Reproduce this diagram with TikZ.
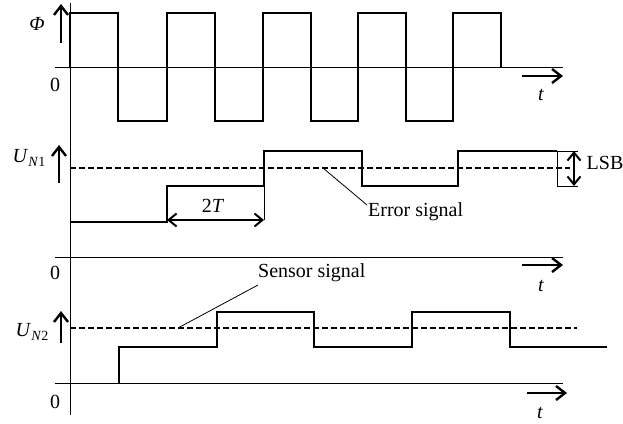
\documentclass[tikz,border=0pt]{standalone}
\usepackage{fontspec}
\setmainfont{Liberation Serif}
\usetikzlibrary{arrows.meta}
\newcommand{\subidx}[1]{\raisebox{-4pt}{\fontsize{14}{14}\selectfont #1}}
\begin{document}
\begin{tikzpicture}[x=1pt,y=-1pt,
  axis/.style={line width=0.9pt},
  sig/.style={line width=1.5pt},
  thinline/.style={line width=0.8pt},
  refline/.style={line width=1.5pt, dash pattern=on 6pt off 3pt},
  dirarrow/.style={line width=2.4pt, -{Straight Barb[length=9pt,width=14pt]}},
  spanarrow/.style={line width=2pt, {Straight Barb[length=8pt,width=13pt]}-{Straight Barb[length=8pt,width=13pt]}},
  lbl/.style={font=\fontsize{20}{20}\selectfont, inner sep=0pt},
]
\useasboundingbox (0,0) rectangle (623,423);

% common vertical axis
\draw[axis] (70,3) -- (70,415);

% ---- flux Phi ----
\draw[axis] (55,67) -- (563,67);
\draw[sig] (70,67) -- (70,13) -- (118,13) -- (118,121) -- (167,121) -- (167,13)
  -- (215,13) -- (215,121) -- (263,121) -- (263,13) -- (311,13) -- (311,121)
  -- (358,121) -- (358,13) -- (406,13) -- (406,121) -- (453,121) -- (453,13)
  -- (501,13) -- (501,67);
\draw[dirarrow] (61,43) -- (61,4);
\node[lbl] (phi) at (37,24) {\textit{Φ}};
\node[lbl] (zero1) at (55,85) {0};
\draw[dirarrow] (522,76) -- (563,76);
\node[lbl] (t1) at (541,95) {\textit{t}};

% ---- U_N1 ----
\draw[axis] (55,257) -- (563,257);
\draw[refline] (70,168) -- (570,168);
\draw[sig] (70,222) -- (167,222) -- (167,186) -- (264,186) -- (264,151)
  -- (362,151) -- (362,186) -- (458,186) -- (458,151) -- (557,151);
\draw[thinline] (264,186) -- (264,220);
\draw[thinline] (557,151) -- (578,151);
\draw[thinline] (557,151) -- (557,186) -- (578,186);
\draw[spanarrow] (167,220) -- (264,220);
\node[lbl] (twoT) at (213,206) {2\textit{T}};
\draw[spanarrow] (574,151) -- (574,186);
\node[lbl] (lsb) at (605,163) {LSB};
\draw[dirarrow] (59,183) -- (59,145);
\node[lbl] (un1) at (29,158) {\textit{U}\subidx{\textit{N}1}};
\node[lbl] (zero2) at (55,273) {0};
\draw[dirarrow] (522,265) -- (563,265);
\node[lbl] (t2) at (541,286) {\textit{t}};
\node[lbl, anchor=west] (err) at (368,212) {Error signal};
\coordinate (errref) at (323,168);
\coordinate (errtip) at (367,205);
\draw[thinline] (errref) -- (errtip);

% ---- U_N2 ----
\draw[axis] (55,383) -- (563,383);
\draw[refline] (70,328) -- (577,328);
\draw[sig] (119,383) -- (119,347) -- (217,347) -- (217,312) -- (314,312)
  -- (314,347) -- (412,347) -- (412,312) -- (510,312) -- (510,347) -- (607,347);
\draw[dirarrow] (61,343) -- (61,311);
\node[lbl] (un2) at (32,332) {\textit{U}\subidx{\textit{N}2}};
\node[lbl] (zero3) at (55,402) {0};
\draw[dirarrow] (527,393) -- (567,393);
\node[lbl] (t3) at (540,413) {\textit{t}};
\node[lbl, anchor=west] (sens) at (258,273) {Sensor signal};
\coordinate (sensref) at (178,328);
\coordinate (senstip) at (258,285);
\draw[thinline] (sensref) -- (senstip);
\end{tikzpicture}
\end{document}
